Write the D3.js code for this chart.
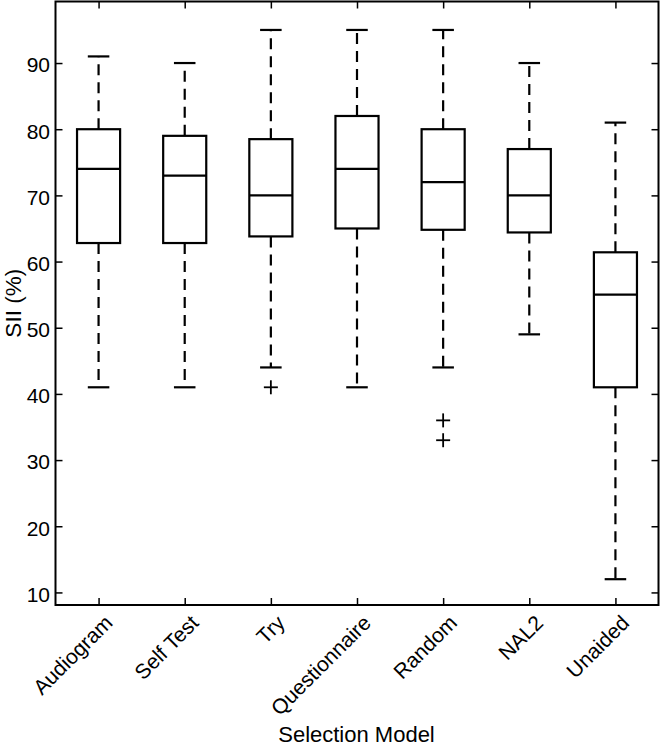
<!DOCTYPE html>
<html>
<head>
<meta charset="utf-8">
<script src="https://cdn.jsdelivr.net/npm/d3@7"></script>
<style>
  html, body { margin: 0; padding: 0; background: #fff; }
  svg { display: block; font-family: "Liberation Sans", Arial, sans-serif; }
</style>
</head>
<body>
<svg id="chart" width="664" height="748"></svg>
<script>
// ---- data ----
const categories = ["Audiogram", "Self Test", "Try", "Questionnaire", "Random", "NAL2", "Unaided"];
const whiskerHigh = [91, 90, 95, 95, 95, 90, 81];
const q3Values    = [80, 79, 78.5, 82, 80, 77, 61.4];
const medians     = [74, 73, 70, 74, 72, 70, 55];
const q1Values    = [62.8, 62.8, 63.8, 65, 64.8, 64.4, 41];
const whiskerLow  = [41, 41, 44, 41, 44, 49, 12];
const outliers    = [[], [], [41], [], [36, 33], [], []];
const yTicks      = [10, 20, 30, 40, 50, 60, 70, 80, 90];

(function () {
// ---- layout ----
const svg = d3.select("#chart");
const mLeft = 55.5, mRight = 658.5, mTop = 1.5, mBottom = 605;

const x = d3.scaleLinear().domain([0.5, 7.5]).range([mLeft, mRight]);
const y = d3.scaleLinear().domain([8.1, 99.3]).range([mBottom, mTop]);
const step = x(2) - x(1);
const boxHalf = step * 0.25;
const capHalf = step * 0.125;

const g = svg.append("g");

// Axes (box frame with inward ticks)
const tickLen = 7;
const yAxis = d3.axisLeft(y).tickValues(yTicks).tickSize(-tickLen).tickPadding(5.5);
const yAxisR = d3.axisRight(y).tickValues(yTicks).tickSize(-tickLen).tickFormat("");
const xAxis = d3.axisBottom(x).tickValues(d3.range(1, 8)).tickSize(-tickLen).tickFormat("");
const xAxisT = d3.axisTop(x).tickValues(d3.range(1, 8)).tickSize(-tickLen).tickFormat("");

function styleAxis(sel) {
  sel.selectAll("path.domain").remove();
  sel.selectAll("line").attr("stroke", "#000").attr("stroke-width", 1.5);
  sel.selectAll("text").attr("fill", "#000").attr("dy", "0.42em")
    .style("font-size", "21px")
    .style("font-family", "'Liberation Sans', Arial, sans-serif");
}

g.append("g").attr("transform", `translate(${mLeft},0)`).call(yAxis).call(styleAxis);
g.append("g").attr("transform", `translate(${mRight},0)`).call(yAxisR).call(styleAxis);
g.append("g").attr("transform", `translate(0,${mBottom})`).call(xAxis).call(styleAxis);
g.append("g").attr("transform", `translate(0,${mTop})`).call(xAxisT).call(styleAxis);

g.append("rect")
  .attr("x", mLeft).attr("y", mTop)
  .attr("width", mRight - mLeft).attr("height", mBottom - mTop)
  .attr("fill", "none").attr("stroke", "#000").attr("stroke-width", 2);

// Category labels (rotated)
g.selectAll("text.cat").data(categories).join("text")
  .attr("class", "cat")
  .attr("transform", (d, i) => `translate(${x(i + 1) + 10},${mBottom + 14}) rotate(-45)`)
  .attr("text-anchor", "end")
  .attr("dy", "0.35em")
  .style("font-size", "21px")
  .attr("fill", "#000")
  .text(d => d);

// Axis titles
svg.append("text")
  .attr("x", 356.5).attr("y", 742)
  .attr("text-anchor", "middle")
  .style("font-size", "22px")
  .text("Selection Model");

svg.append("text")
  .attr("transform", `translate(21,${(mTop + mBottom) / 2}) rotate(-90)`)
  .attr("text-anchor", "middle")
  .style("font-size", "22.5px")
  .text("SII (%)");

// Boxes
const idx = d3.range(categories.length);
const boxes = g.selectAll("g.box").data(idx).join("g").attr("class", "box");

// whiskers (dashed)
boxes.append("line")
  .attr("x1", i => x(i + 1)).attr("x2", i => x(i + 1))
  .attr("y1", i => y(q3Values[i])).attr("y2", i => y(whiskerHigh[i]))
  .attr("stroke", "#000").attr("stroke-width", 2.2).attr("stroke-dasharray", "11,7");
boxes.append("line")
  .attr("x1", i => x(i + 1)).attr("x2", i => x(i + 1))
  .attr("y1", i => y(q1Values[i])).attr("y2", i => y(whiskerLow[i]))
  .attr("stroke", "#000").attr("stroke-width", 2.2).attr("stroke-dasharray", "11,7");
// caps
boxes.append("line")
  .attr("x1", i => x(i + 1) - capHalf).attr("x2", i => x(i + 1) + capHalf)
  .attr("y1", i => y(whiskerHigh[i])).attr("y2", i => y(whiskerHigh[i]))
  .attr("stroke", "#000").attr("stroke-width", 2.2);
boxes.append("line")
  .attr("x1", i => x(i + 1) - capHalf).attr("x2", i => x(i + 1) + capHalf)
  .attr("y1", i => y(whiskerLow[i])).attr("y2", i => y(whiskerLow[i]))
  .attr("stroke", "#000").attr("stroke-width", 2.2);
// box
boxes.append("rect")
  .attr("x", i => x(i + 1) - boxHalf)
  .attr("y", i => y(q3Values[i]))
  .attr("width", boxHalf * 2)
  .attr("height", i => y(q1Values[i]) - y(q3Values[i]))
  .attr("fill", "none").attr("stroke", "#000").attr("stroke-width", 2.2);
// median
boxes.append("line")
  .attr("x1", i => x(i + 1) - boxHalf).attr("x2", i => x(i + 1) + boxHalf)
  .attr("y1", i => y(medians[i])).attr("y2", i => y(medians[i]))
  .attr("stroke", "#000").attr("stroke-width", 2.2);

// outliers (+)
const outPts = [];
outliers.forEach((arr, i) => arr.forEach(v => outPts.push({ i, v })));
const plus = g.selectAll("g.out").data(outPts).join("g").attr("class", "out")
  .attr("transform", d => `translate(${x(d.i + 1)},${y(d.v)})`);
plus.append("line").attr("x1", -7).attr("x2", 7).attr("y1", 0).attr("y2", 0)
  .attr("stroke", "#000").attr("stroke-width", 1.8);
plus.append("line").attr("x1", 0).attr("x2", 0).attr("y1", -7).attr("y2", 7)
  .attr("stroke", "#000").attr("stroke-width", 1.8);
})();
</script>
</body>
</html>
